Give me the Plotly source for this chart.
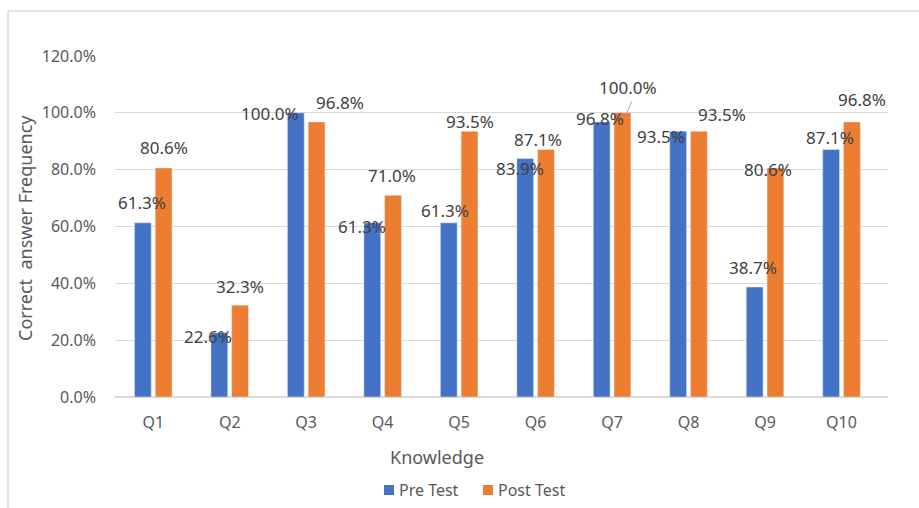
import plotly.graph_objects as go

categories = ["Q1", "Q2", "Q3", "Q4", "Q5", "Q6", "Q7", "Q8", "Q9", "Q10"]
pre_test = [0.613, 0.226, 1.000, 0.613, 0.613, 0.839, 0.968, 0.935, 0.387, 0.871]
post_test = [0.806, 0.323, 0.968, 0.710, 0.935, 0.871, 1.000, 0.935, 0.806, 0.968]
y_ticks = [0, 0.2, 0.4, 0.6, 0.8, 1.0, 1.2]
series_names = ["Pre Test", "Post Test"]

# label placement offsets (px) relative to bar centre / bar top
pre_dx = [-1, -11.5, -26, -10, -4, -5, -1.5, -17, -1.5, -1.5]
pre_dy = [20, -4, -1, -4, 12, -10, 3, -5, 20, 11.5]
post_dx = [0, 0, 23, -1, 0, -8, 5, 23, -8, 10]
post_dy = [20, 19, 19, 20, 10, 10, 25, 17, -2, 22]

BLUE = "#4472C4"
ORANGE = "#ED7D31"
FONT = "Noto Sans"
LBL = "#404040"
AX = "#595959"

fig = go.Figure()
fig.add_trace(go.Bar(x=categories, y=pre_test, name=series_names[0], marker_color=BLUE))
fig.add_trace(go.Bar(x=categories, y=post_test, name=series_names[1], marker_color=ORANGE))

W, L, R, T, B = 919, 115, 31, 56, 111
H = 508
slot_px = 10.5

annotations = []
for i, c in enumerate(categories):
    annotations.append(dict(x=c, y=pre_test[i], xref="x", yref="y", text=f"{pre_test[i]*100:.1f}%",
                            showarrow=False, xshift=-slot_px + pre_dx[i], yshift=pre_dy[i],
                            xanchor="center", yanchor="middle",
                            font=dict(family=FONT, size=17, color=LBL)))
    annotations.append(dict(x=c, y=post_test[i], xref="x", yref="y", text=f"{post_test[i]*100:.1f}%",
                            showarrow=False, xshift=slot_px + post_dx[i], yshift=post_dy[i],
                            xanchor="center", yanchor="middle",
                            font=dict(family=FONT, size=17, color=LBL)))

plot_w = W - L - R
plot_h = H - T - B

def px_x(p):
    return (p - L) / plot_w

def px_y(p):
    return (H - B - p) / plot_h

annotations.append(dict(x=px_x(437), y=px_y(457), xref="paper", yref="paper", text="Knowledge",
                        showarrow=False, xanchor="center", yanchor="middle",
                        font=dict(family=FONT, size=18, color=AX)))
annotations.append(dict(x=px_x(25), y=px_y(228), xref="paper", yref="paper",
                        text="Correct &nbsp;answer Frequency", textangle=-90,
                        showarrow=False, xanchor="center", yanchor="middle",
                        font=dict(family=FONT, size=18, color=AX)))

# custom legend (Excel-like compact swatches)
legend_items = [(series_names[0], BLUE, 384), (series_names[1], ORANGE, 483)]
shapes = []
for name, col, x0 in legend_items:
    shapes.append(dict(type="rect", xref="paper", yref="paper", x0=px_x(x0), x1=px_x(x0 + 10),
                       y0=px_y(495), y1=px_y(485), line=dict(width=0), fillcolor=col))
    annotations.append(dict(x=px_x(x0 + 13), y=px_y(490), xref="paper", yref="paper", text=name,
                            showarrow=False, xanchor="left", yanchor="middle",
                            font=dict(family=FONT, size=16, color=AX)))

shapes += [
    dict(type="line", xref="paper", yref="paper", x0=px_x(8), x1=px_x(8), y0=px_y(11), y1=px_y(515),
         line=dict(color="#D9D9D9", width=1.5)),
    dict(type="line", xref="paper", yref="paper", x0=px_x(8), x1=px_x(925), y0=px_y(11), y1=px_y(11),
         line=dict(color="#D9D9D9", width=1.5)),
    # leader line for Q7 post-test label
    dict(type="line", xref="paper", yref="paper", x0=px_x(631.7), x1=px_x(626.7), y0=px_y(101.7), y1=px_y(113.3),
         line=dict(color="#A6A6A6", width=1)),
]

fig.update_layout(
    width=W, height=H,
    margin=dict(l=L, r=R, t=T, b=B, pad=0, autoexpand=False),
    paper_bgcolor="white", plot_bgcolor="white",
    barmode="group", bargap=0.457, bargroupgap=0.19,
    font=dict(family=FONT, color=AX),
    showlegend=False,
    annotations=annotations,
    shapes=shapes,
    xaxis=dict(showgrid=False, showline=False, ticks="", tickfont=dict(family=FONT, size=16, color=AX),
               ticklabelstandoff=14, automargin=False),
    yaxis=dict(range=[0, 1.2], tickvals=y_ticks, tickformat=".1%", showgrid=True, gridcolor="#D9D9D9",
               gridwidth=1, zeroline=True, zerolinecolor="#D9D9D9", zerolinewidth=2,
               showline=False, ticks="", tickfont=dict(family=FONT, size=16, color=AX),
               ticklabelstandoff=18, automargin=False),
)

fig.write_html("out.html")
